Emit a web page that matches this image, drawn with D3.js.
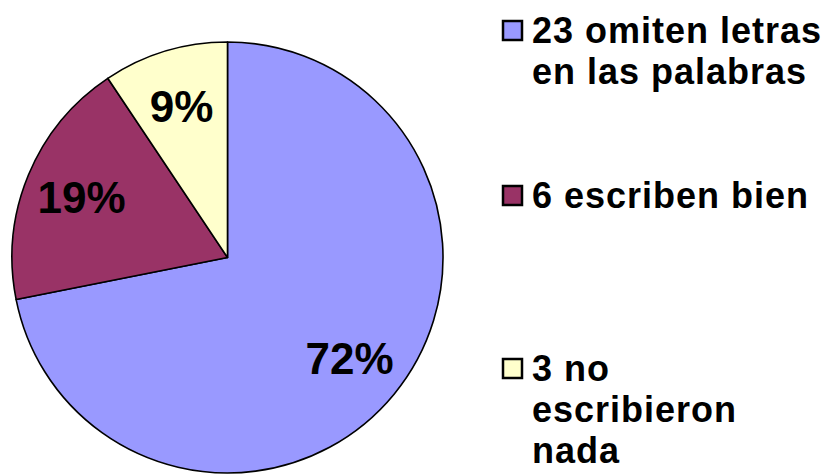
<!DOCTYPE html>
<meta charset="utf-8">

<style type="text/css">
	body {
		margin: 0;
		background: #fff;
	}
	svg {
		display: block;
		font-family: "Liberation Sans", Arial, sans-serif;
	}
</style>

<body>

</body>

<script src="https://d3js.org/d3.v7.min.js"></script>

<script>

	// slices, starting at 12 o'clock and going clockwise
	var counts = [23, 6, 3];
	var legendLines = [
		["23 omiten letras", "en las palabras"],
		["6 escriben bien"],
		["3 no", "escribieron", "nada"]
	];
	var colors = ["#9999ff", "#993366", "#ffffcc"];

	var width = 835, height = 474;
	var cx = 227.5, cy = 257.5, radius = 215.5;

	var total = d3.sum(counts);

	var svg = d3.select("body").append("svg")
		.attr("width", width)
		.attr("height", height);

	var pie = d3.pie()
		.sort(null)
		.value(function(d) { return d; });

	var arc = d3.arc()
		.innerRadius(0)
		.outerRadius(radius);

	var labelArc = d3.arc()
		.innerRadius(158)
		.outerRadius(158);

	var g = svg.append("g")
		.attr("transform", "translate(" + cx + "," + cy + ")");

	var slices = pie(counts);

	g.selectAll("path")
		.data(slices)
		.enter()
		.append("path")
		.attr("d", arc)
		.attr("fill", function(d, i) { return colors[i]; })
		.attr("stroke", "#000")
		.attr("stroke-width", 1.6)
		.attr("stroke-linejoin", "round");

	g.selectAll("text.pct")
		.data(slices)
		.enter()
		.append("text")
		.attr("class", "pct")
		.attr("transform", function(d) { return "translate(" + labelArc.centroid(d) + ")"; })
		.attr("text-anchor", "middle")
		.attr("dy", "0.36em")
		.attr("font-size", 44)
		.attr("font-weight", "bold")
		.attr("fill", "#000")
		.text(function(d) { return Math.round(d.value / total * 100) + "%"; });

	// legend
	var legendY = [43, 208, 381];
	var lineH = 41;

	var items = svg.selectAll("g.legend")
		.data(legendLines)
		.enter()
		.append("g")
		.attr("class", "legend")
		.attr("transform", function(d, i) { return "translate(0," + legendY[i] + ")"; });

	items.append("rect")
		.attr("x", 503)
		.attr("y", -22)
		.attr("width", 19)
		.attr("height", 19)
		.attr("fill", function(d, i) { return colors[i]; })
		.attr("stroke", "#000")
		.attr("stroke-width", 2.5);

	items.append("text")
		.attr("x", 532)
		.attr("font-size", 36)
		.attr("font-weight", "bold")
		.attr("letter-spacing", 1)
		.selectAll("tspan")
		.data(function(d) { return d; })
		.enter()
		.append("tspan")
		.attr("x", 532)
		.attr("dy", function(d, i) { return i === 0 ? 0 : lineH; })
		.text(function(d) { return d; });

</script>
